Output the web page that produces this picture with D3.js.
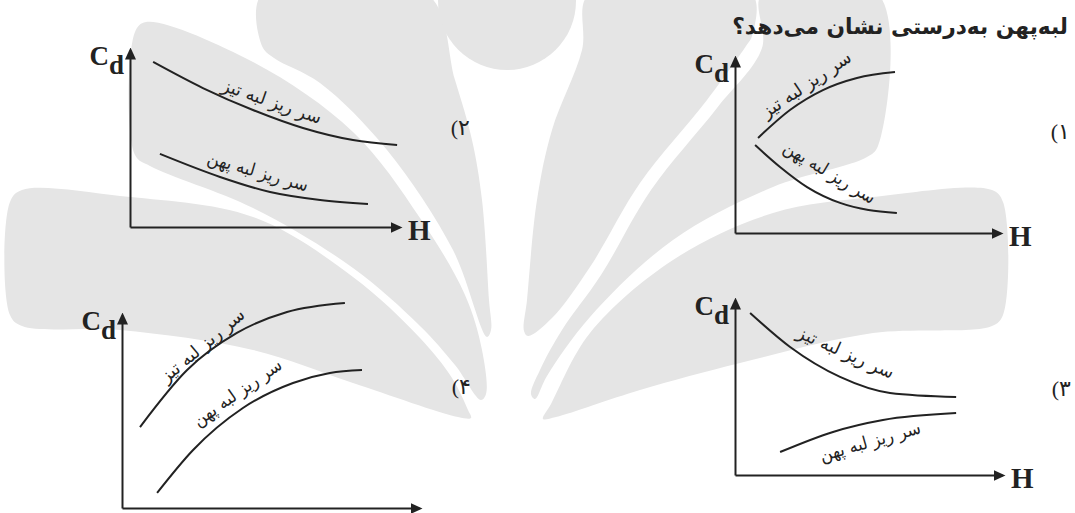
<!DOCTYPE html>
<html>
<head>
<meta charset="utf-8">
<script src="https://cdn.jsdelivr.net/npm/d3@7"></script>
<style>
    html, body { margin: 0; padding: 0; background: #fff; }
    svg { display: block; }
</style>
</head>
<body>
<svg id="chart" width="1075" height="513"></svg>
<script>

// texts
const questionText = 'لبه‌پهن به‌درستی نشان می‌دهد؟';
const seriesNames = ['سر ریز لبه تیز', 'سر ریز لبه پهن'];
const optionDigits = ['۱', '۲', '۳', '۴'];

// [H, Cd], both axes normalised to 0..1 (axis corner .. arrow tip)
const sharp1 = [[0.086, 0.534], [0.205, 0.691], [0.328, 0.803], [0.455, 0.871], [0.597, 0.904]];
const broad1 = [[0.075, 0.494], [0.168, 0.371], [0.269, 0.258], [0.392, 0.169], [0.604, 0.112]];

const sharp2 = [[0.085, 0.917], [0.268, 0.772], [0.452, 0.650], [0.636, 0.550], [0.820, 0.483], [0.982, 0.456]];
const broad2 = [[0.110, 0.406], [0.331, 0.278], [0.515, 0.194], [0.699, 0.150], [0.875, 0.128]];

const sharp3 = [[0.056, 0.910], [0.204, 0.719], [0.389, 0.551], [0.574, 0.461], [0.819, 0.438]];
const broad3 = [[0.167, 0.129], [0.363, 0.242], [0.548, 0.309], [0.819, 0.348]];

const sharp4 = [[0.060, 0.413], [0.217, 0.704], [0.383, 0.893], [0.550, 1.000], [0.743, 1.046]];
const broad4 = [[0.117, 0.077], [0.237, 0.296], [0.403, 0.510], [0.570, 0.638], [0.693, 0.689], [0.800, 0.704]];

// where the two curve names sit: [H, Cd, angle]
const labels1 = [[0.265, 0.837, -34], [0.354, 0.343, 31]];
const labels2 = [[0.522, 0.700, 19], [0.471, 0.311, 16]];
const labels3 = [[0.411, 0.691, 24], [0.500, 0.191, -16]];
const labels4 = [[0.267, 0.832, -40], [0.383, 0.592, -35]];

// page layout: [x corner, x arrow tip, y corner, y arrow tip]
const panels = [
    {box: [735, 1003, 233, 55], curves: [sharp1, broad1], labels: labels1, hasH: true, optionAt: [1057, 131]},
    {box: [130, 402, 227, 47], curves: [sharp2, broad2], labels: labels2, hasH: true, optionAt: [457, 127]},
    {box: [735, 1005, 475, 297], curves: [sharp3, broad3], labels: labels3, hasH: true, optionAt: [1058, 388]},
    {box: [122, 422, 508, 312], curves: [sharp4, broad4], labels: labels4, hasH: false, optionAt: [458, 386]}
];

// watermark logo behind the sheet (petal outlines, px)
const petals = [
    [[262, -6], [427, -6], [455, 80], [472, 140], [482, 200], [489, 300], [491, 330], [487, 337], [453, 250], [387, 150], [320, 83], [274, 58], [262, 46]],
    [[135, 32], [146, 22], [253, 62], [353, 132], [420, 218], [465, 295], [482, 350], [486, 394], [481, 400], [455, 365], [420, 326], [353, 268], [253, 208], [150, 166], [135, 155]],
    [[10, 202], [22, 190], [120, 196], [253, 217], [353, 277], [420, 338], [452, 378], [468, 410], [471, 418], [458, 417], [353, 383], [253, 350], [120, 330], [22, 326], [10, 315]],
    [[589, -6], [752, -6], [752, 36], [746, 46], [707, 100], [640, 183], [590, 267], [552, 318], [528, 336], [524, 331], [527, 300], [537, 200], [552, 130], [582, 50]],
    [[762, -6], [878, -6], [878, 146], [867, 157], [773, 187], [673, 240], [590, 317], [547, 376], [535, 399], [531, 394], [540, 370], [562, 330], [601, 275], [651, 190], [717, 108], [762, 48]],
    [[1003, 202], [992, 190], [873, 197], [773, 213], [673, 260], [590, 333], [551, 404], [543, 419], [556, 417], [640, 390], [740, 363], [873, 333], [992, 326], [1003, 315]]
];

const INK = '#222';
const WATERMARK = '#e5e5e5';
const persianFont = '"DejaVu Sans", sans-serif';
const latinFont = '"Liberation Serif", "Times New Roman", serif';

const svg = d3.select('#chart');

svg.append('defs')
    .append('marker')
    .attr('id', 'arrow')
    .attr('viewBox', '0 0 12 11')
    .attr('refX', 9)
    .attr('refY', 5.5)
    .attr('markerWidth', 12)
    .attr('markerHeight', 11)
    .attr('markerUnits', 'userSpaceOnUse')
    .attr('orient', 'auto')
    .append('path')
    .attr('d', 'M0,0L12,5.5L0,11Z')
    .attr('fill', INK);

// background logo
const bg = svg.append('g').attr('fill', WATERMARK);
bg.selectAll('path')
    .data(petals)
    .join('path')
    .attr('d', d3.line().curve(d3.curveCatmullRomClosed.alpha(0.5)));
bg.append('circle').attr('cx', 507).attr('cy', 1).attr('r', 69);

// make a text exactly `width` wide by scaling its font size
function fitWidth(sel, width) {
    sel.each(function () {
        const len = this.getComputedTextLength();
        const size = parseFloat(d3.select(this).attr('font-size'));
        if (len > 0) d3.select(this).attr('font-size', size * width / len);
    });
}

svg.append('text')
    .attr('x', 1068)
    .attr('y', 34)
    .attr('text-anchor', 'end')
    .attr('font-family', persianFont)
    .attr('font-weight', 'bold')
    .attr('font-size', 22)
    .attr('fill', INK)
    .text(questionText)
    .call(fitWidth, 336);

panels.forEach((p, i) => {

    const [x0, x1, y0, y1] = p.box;
    const x = d3.scaleLinear().domain([0, 1]).range([x0, x1]);
    const y = d3.scaleLinear().domain([0, 1]).range([y0, y1]);

    const g = svg.append('g').attr('class', 'panel').attr('color', INK);

    // axes: only the domain lines, ending in arrows
    g.append('g')
        .attr('transform', `translate(0,${y0})`)
        .call(d3.axisBottom(x.copy().range([x0, x1 - 3])).tickValues([]).tickSizeOuter(0))
        .call(a => a.select('.domain').attr('stroke-width', 2).attr('marker-end', 'url(#arrow)'));

    g.append('g')
        .attr('transform', `translate(${x0},0)`)
        .call(d3.axisLeft(y.copy().range([y0, y1 + 3])).tickValues([]).tickSizeOuter(0))
        .call(a => a.select('.domain').attr('stroke-width', 2).attr('marker-end', 'url(#arrow)'));

    const cd = g.append('text')
        .attr('x', x0 - 6)
        .attr('y', y1 + 18)
        .attr('text-anchor', 'end')
        .attr('font-family', latinFont)
        .attr('font-weight', 'bold')
        .attr('font-size', 27)
        .attr('fill', INK);
    cd.append('tspan').text('C');
    cd.append('tspan').attr('dy', 9).text('d');

    if (p.hasH) {
        g.append('text')
            .attr('x', x1 + 6)
            .attr('y', y0 + 13)
            .attr('font-family', latinFont)
            .attr('font-weight', 'bold')
            .attr('font-size', 29)
            .attr('fill', INK)
            .text('H');
    }

    const line = d3.line()
        .x(d => x(d[0]))
        .y(d => y(d[1]))
        .curve(d3.curveMonotoneX);

    g.selectAll('path.curve')
        .data(p.curves)
        .join('path')
        .attr('class', 'curve')
        .attr('d', line)
        .attr('fill', 'none')
        .attr('stroke', INK)
        .attr('stroke-width', 2);

    g.selectAll('text.name')
        .data(p.labels)
        .join('text')
        .attr('class', 'name')
        .attr('transform', d => `translate(${x(d[0])},${y(d[1])}) rotate(${d[2]})`)
        .attr('text-anchor', 'middle')
        .attr('dominant-baseline', 'central')
        .attr('font-family', persianFont)
        .attr('font-size', 18)
        .attr('textLength', 104)
        .attr('lengthAdjust', 'spacingAndGlyphs')
        .attr('fill', INK)
        .text((d, j) => seriesNames[j]);

    // option number, written "(n" as printed on the sheet
    const opt = g.append('g')
        .attr('transform', `translate(${p.optionAt[0]},${p.optionAt[1]})`)
        .attr('fill', INK)
        .attr('font-size', 22);
    opt.append('text')
        .attr('x', 1)
        .attr('text-anchor', 'end')
        .attr('dominant-baseline', 'central')
        .attr('font-family', latinFont)
        .text('(');
    opt.append('text')
        .attr('x', 1)
        .attr('text-anchor', 'start')
        .attr('dominant-baseline', 'central')
        .attr('font-family', persianFont)
        .text(optionDigits[i]);
});

</script>
</body>
</html>
